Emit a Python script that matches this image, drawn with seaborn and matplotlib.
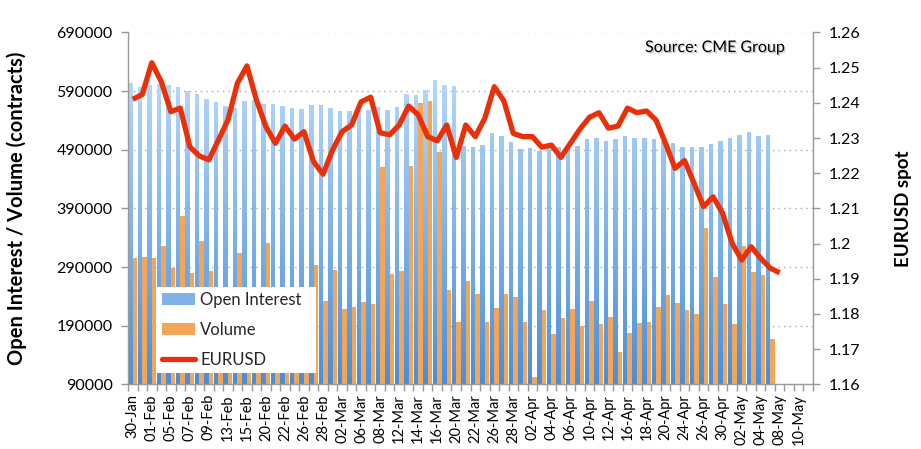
import numpy as np
import pandas as pd
import matplotlib
matplotlib.use('Agg')
import matplotlib.pyplot as plt
import seaborn as sns
from matplotlib.path import Path
from matplotlib.patches import PathPatch, Patch
from matplotlib.lines import Line2D
from matplotlib.colors import LinearSegmentedColormap
import matplotlib.patheffects as pe
from matplotlib.ticker import FuncFormatter, FixedLocator

# ---------------- data ----------------
dates = pd.bdate_range('2018-01-30', '2018-05-11')
dates = dates[~dates.isin(pd.to_datetime(['2018-02-19', '2018-03-30']))]
categories = [d.strftime('%d-%b') for d in dates]

open_interest = [603600, 597300, 600700, 601900, 600700, 596800, 591000, 585400, 577400, 571800,
                 563800, 561600, 573500, 575700, 568400, 568400, 565000, 561000, 559900, 566700,
                 566200, 560400, 556500, 556500, 556500, 557700, 562100, 557700, 562100, 584900,
                 583700, 592200, 608700, 600700, 599000, 497000, 495300, 498700, 518600, 514000,
                 503800, 490700, 492400, 488500, 494100, 494100, 491300, 497000, 507700, 510100,
                 505500, 507700, 513500, 509400, 510100, 507700, 505500, 501600, 494100, 494100,
                 495300, 499800, 505500, 509400, 515700, 520800, 513500, 515700]

volume = [305300, 307000, 305300, 325700, 288300, 376700, 279800, 334200, 283200, 235000,
          215000, 314500, 240000, 205000, 331500, 225000, 200000, 230000, 220000, 292900,
          232200, 284900, 218600, 222000, 230500, 227100, 460100, 278100, 283900, 461800,
          569600, 574000, 485600, 251600, 196500, 266200, 244800, 196500, 220300, 244800,
          239000, 196500, 101900, 217500, 175000, 203300, 218600, 189700, 232200, 192000,
          205000, 144400, 177800, 193700, 196500, 221000, 242400, 228800, 217500, 209600,
          356300, 273000, 226600, 192600, 325700, 281500, 276400, 167600]

eurusd = [1.2410, 1.2424, 1.2514, 1.2460, 1.2375, 1.2385, 1.2275, 1.2249, 1.2238, 1.2294,
          1.2351, 1.2456, 1.2505, 1.2408, 1.2332, 1.2285, 1.2334, 1.2297, 1.2318, 1.2233,
          1.2197, 1.2266, 1.2318, 1.2337, 1.2403, 1.2416, 1.2315, 1.2309, 1.2337, 1.2391,
          1.2366, 1.2304, 1.2292, 1.2337, 1.2245, 1.2337, 1.2304, 1.2356, 1.2446, 1.2406,
          1.2313, 1.2304, 1.2304, 1.2274, 1.2280, 1.2245, 1.2285, 1.2325, 1.2359, 1.2372,
          1.2328, 1.2334, 1.2385, 1.2372, 1.2377, 1.2351, 1.2285, 1.2214, 1.2236, 1.2171,
          1.2105, 1.2133, 1.2086, 1.2001, 1.1953, 1.1991, 1.1958, 1.1930, 1.1917]

left_ticks = [90000, 190000, 290000, 390000, 490000, 590000, 690000]
right_ticks = [1.16, 1.17, 1.18, 1.19, 1.20, 1.21, 1.22, 1.23, 1.24, 1.25, 1.26]

# ---------------- style ----------------
BLUE = '#7fb3ea'
ORANGE = '#f2a65a'
RED = '#ea3009'
GRAY = '#9a9a9a'

sns.set_theme(style='white')
plt.rcParams['font.family'] = ['Lato', 'DejaVu Sans']

fig = plt.figure(figsize=(9.21, 4.49), dpi=100)
ax = fig.add_axes([128 / 921, 1 - 384.3 / 449, 685 / 921, 351.8 / 449])

n = len(open_interest)
df = pd.DataFrame({
    'date': categories[:n] + categories[:len(volume)],
    'series': ['Open Interest'] * n + ['Volume'] * len(volume),
    'value': open_interest + volume,
})

sns.barplot(data=df, x='date', y='value', hue='series', order=categories,
            hue_order=['Open Interest', 'Volume'], palette=[BLUE, ORANGE],
            width=0.95, saturation=1, errorbar=None, legend=False, ax=ax,
            linewidth=0)

# vertical gradient on the open-interest bars
paths = []
for r in ax.containers[0]:
    x, y, w, h = r.get_x(), r.get_y(), r.get_width(), r.get_height()
    if np.isnan(h):
        continue
    paths.append(Path([(x, y), (x + w, y), (x + w, y + h), (x, y + h), (x, y)], closed=True))
compound = Path.make_compound_path(*paths)
clip = PathPatch(compound, transform=ax.transData, facecolor='none', edgecolor='none')
cmap = LinearSegmentedColormap.from_list('oi', ['#4a8ed8', '#7fb3ea', '#b8d8f9'])
grad = np.linspace(0, 1, 256).reshape(-1, 1)
im = ax.imshow(grad, extent=[-0.5, len(categories) - 0.5, 90000, 615000], aspect='auto',
               cmap=cmap, origin='lower', zorder=2, interpolation='bilinear')
im.set_clip_path(clip)

ax.set_xlim(-0.5, len(categories) - 0.5)
ax.set_ylim(90000, 690000)
ax.set_xlabel('')
ax.set_ylabel('Open Interest / Volume (contracts)', fontsize=14.5, fontweight='bold', color='black')
ax.yaxis.set_label_coords(-0.148, 0.5)

ax.set_yticks(left_ticks)
ax.yaxis.set_major_formatter(FuncFormatter(lambda v, p: f'{int(round(v))}'))
ax.tick_params(axis='y', left=True, direction='out', length=5, width=1, color=GRAY,
               labelsize=11.5, pad=6, labelcolor='black')

ax.set_xticks(range(0, len(categories), 2))
ax.set_xticklabels(categories[::2], rotation=90, fontsize=10.5, color='black')
ax.xaxis.set_minor_locator(FixedLocator(np.arange(-0.5, len(categories), 1)))
ax.tick_params(axis='x', which='major', bottom=True, length=0, pad=7)
ax.tick_params(axis='x', which='minor', bottom=True, length=5, width=1, color=GRAY, direction='out')

ax.yaxis.grid(True, linestyle=(0, (1, 3)), color='#a8a8a8', linewidth=1.0)
ax.set_axisbelow(True)
for s in ['top', 'right']:
    ax.spines[s].set_visible(False)
for s in ['left', 'bottom']:
    ax.spines[s].set_color(GRAY)
    ax.spines[s].set_linewidth(1.0)

# EURUSD line on secondary axis
ax2 = ax.twinx()
sns.lineplot(x=np.arange(len(eurusd)), y=eurusd, ax=ax2, color=RED, linewidth=3.8,
             solid_joinstyle='round', solid_capstyle='butt')
ax2.set_xlim(-0.5, len(categories) - 0.5)
ax2.set_ylim(1.16, 1.26)
ax2.set_yticks(right_ticks)
ax2.yaxis.set_major_formatter(FuncFormatter(lambda v, p: f'{round(v, 2):g}'))
ax2.tick_params(axis='y', right=True, direction='out', length=5, width=1, color=GRAY,
                labelsize=11.5, pad=6, labelcolor='black')
ax2.set_ylabel('EURUSD spot', fontsize=13.5, fontweight='bold', color='black', rotation=90)
ax2.yaxis.set_label_coords(1.12, 0.5)
for s in ['top', 'left', 'bottom']:
    ax2.spines[s].set_visible(False)
ax2.spines['right'].set_color(GRAY)
ax2.spines['right'].set_linewidth(1.0)
ax2.grid(False)

handles = [Patch(facecolor=BLUE, edgecolor='none'),
           Patch(facecolor=ORANGE, edgecolor='none'),
           Line2D([], [], color=RED, linewidth=3.8)]
leg = ax2.legend(handles, ['Open Interest', 'Volume', 'EURUSD'], loc='lower left',
                 bbox_to_anchor=(0.042, 0.032, 0.232, 0.24), mode='expand',
                 borderaxespad=0, frameon=True, fancybox=False,
                 edgecolor='none', framealpha=1, fontsize=12, handlelength=2.0,
                 handletextpad=0.3, labelspacing=0.85, borderpad=0.3)
leg.get_frame().set_facecolor('white')
leg._legend_box.align = 'left'

ax2.text(0.857, 0.956, 'Source: CME Group', transform=ax2.transAxes, ha='center', va='center',
         fontsize=11.5, color='black',
         path_effects=[pe.withSimplePatchShadow(offset=(1, -1), shadow_rgbFace='#888888', alpha=0.45)])

fig.savefig('out.png', dpi=100)
